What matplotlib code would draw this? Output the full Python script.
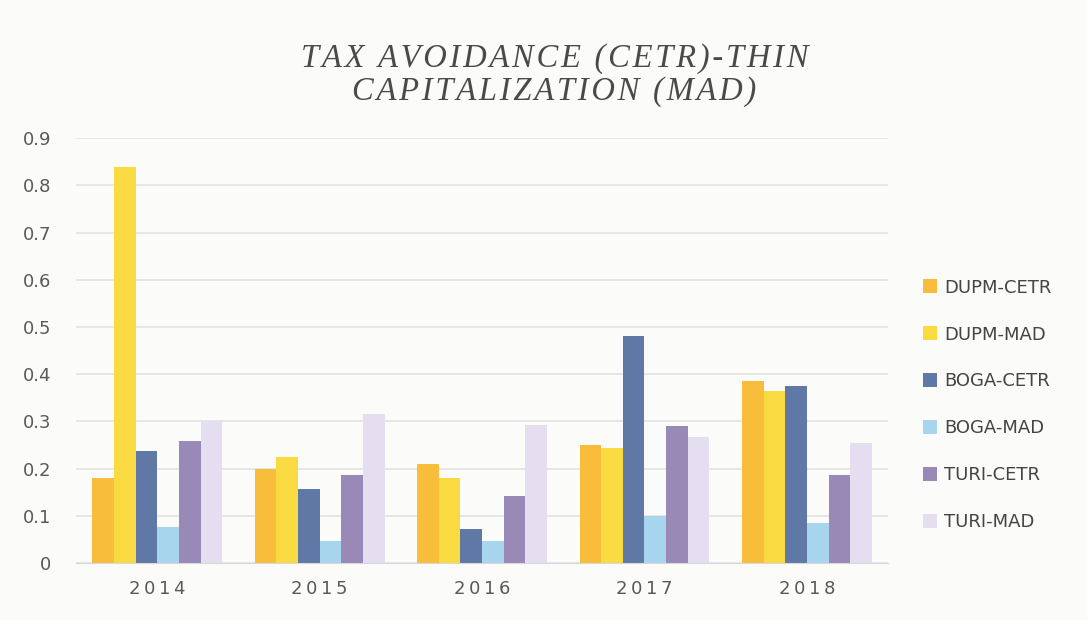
import numpy as np
import matplotlib.pyplot as plt
from matplotlib.patches import Patch

years = ['2014', '2015', '2016', '2017', '2018']
series = ['DUPM-CETR', 'DUPM-MAD', 'BOGA-CETR', 'BOGA-MAD', 'TURI-CETR', 'TURI-MAD']
dupm_cetr = [0.18, 0.20, 0.21, 0.25, 0.385]
dupm_mad = [0.84, 0.225, 0.18, 0.244, 0.364]
boga_cetr = [0.238, 0.156, 0.073, 0.48, 0.375]
boga_mad = [0.076, 0.047, 0.046, 0.10, 0.085]
turi_cetr = [0.258, 0.186, 0.142, 0.29, 0.186]
turi_mad = [0.30, 0.315, 0.292, 0.267, 0.254]

values = [dupm_cetr, dupm_mad, boga_cetr, boga_mad, turi_cetr, turi_mad]
colors = ['#f8bd3a', '#f9da40', '#5f78a6', '#a8d5ee', '#9989b7', '#e5def1']


def spaced(s, sep='\u2009'):
    return sep.join(s)


fig = plt.figure(figsize=(10.87, 6.2), dpi=100)
fig.patch.set_facecolor('#fbfbfa')
ax = fig.add_axes([0.070, 0.092, 0.747, 0.685])
ax.set_facecolor('#fbfbfa')

x = np.arange(len(years))
width = 0.8 / len(series)
for i, (vals, c) in enumerate(zip(values, colors)):
    ax.bar(x - 0.4 + width * (i + 0.5), vals, width, color=c, zorder=2)

ax.set_xlim(-0.5, len(years) - 0.5)
ax.set_ylim(0, 0.9)
ax.set_yticks(np.arange(0, 0.91, 0.1))
ax.set_yticklabels(['0'] + ['%.1f' % v for v in np.arange(0.1, 0.91, 0.1)])
ax.set_xticks(x)
ax.set_xticklabels([spaced(y) for y in years])
ax.yaxis.grid(True, color='#e2e2e2', linewidth=1.2, zorder=0)
for s in ['top', 'right', 'left']:
    ax.spines[s].set_visible(False)
ax.spines['bottom'].set_color('#d8d8d8')
ax.tick_params(axis='both', length=0, colors='#595959', labelsize=13)
ax.tick_params(axis='y', pad=18)
ax.tick_params(axis='x', pad=12)

title = (spaced('TAX AVOIDANCE (CETR)-THIN', '\u200a') + '\n'
         + spaced('CAPITALIZATION (MAD)', '\u200a'))
fig.text(0.51, 0.879, title,
         ha='center', va='center', family='Liberation Serif', style='italic',
         fontsize=23.5, color='#4a4a4a', linespacing=1.1)

handles = [Patch(facecolor=c, label=s) for s, c in zip(series, colors)]
fig.legend(handles=handles, loc='center left', bbox_to_anchor=(0.834, 0.347),
           frameon=False, fontsize=13, labelcolor='#444444',
           handlelength=0.8, handleheight=0.8, handletextpad=0.4, labelspacing=1.6)

plt.savefig('out.png', dpi=100, facecolor=fig.get_facecolor())
